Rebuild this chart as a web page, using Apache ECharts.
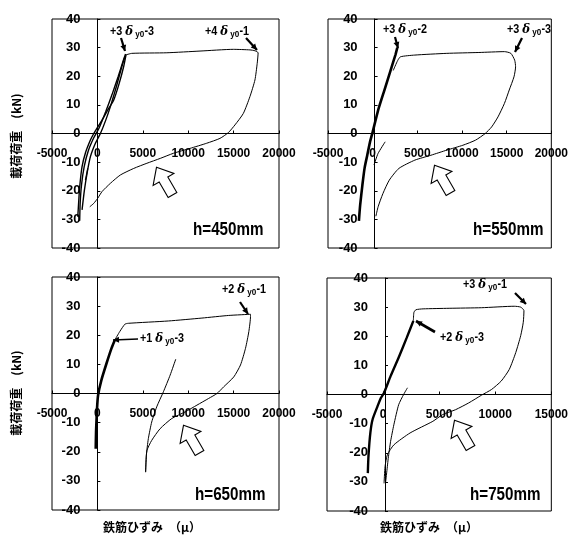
<!DOCTYPE html>
<html><head><meta charset="utf-8">
<script src="https://cdn.jsdelivr.net/npm/echarts@6/dist/echarts.min.js"></script>
<style>html,body{margin:0;padding:0;background:#fff}#c{width:571px;height:539px}</style>
</head><body><div id="c"></div>
<script>
// ---------- data (strain μ, load kN) ----------
const panelTitles = ['h=450mm', 'h=550mm', 'h=650mm', 'h=750mm'];
const xMaxes = [20000, 20000, 20000, 15000];
const yTitle = '載荷荷重　(kN)';
const xTitle = '鉄筋ひずみ　（μ）';

// h=450mm
const p1Main = [[3075,27.4],[3800,28.0],[7650,28.2],[11300,28.8],[14970,29.4],[16800,29.2],[17350,28.9],[17700,28.2],[17600,24.5],[17350,18.7],[16800,12.9],[16070,7.0],[15150,3.0],[14420,0.3],[13500,-1.7],[12040,-3.4],[10200,-5.2],[8380,-6.9],[6920,-8.7],[5450,-10.4],[4000,-12.2],[2525,-14.5],[1430,-17.4],[510,-20.3],[40,-22.6],[-400,-24.4],[-840,-25.6]];
const p1CycA = [[-2160,-29.1],[-2050,-23.3],[-1950,-18.6],[-1690,-11.6],[-1320,-6.8],[-770,-2.3],[-400,0],[-40,1.9],[510,4.7],[1200,8.5],[1800,11.7],[2400,17.5],[2900,23.5],[3150,27.5]];
const p1CycB = [[-1690,-26.7],[-1430,-19.8],[-1140,-13.9],[-770,-8.1],[-220,-3.4],[330,0],[900,4.5],[1430,9.4],[2100,16.5],[2700,23.5],[3050,27.0]];
const p1CycC = [[-1950,-30.5],[-1900,-24.5],[-1750,-18.0],[-1450,-11.5],[-1000,-6.0],[-400,-1.5],[200,2.0],[900,7.5],[1600,13.5],[2300,20.0],[2850,25.5],[3100,27.8]];
const p1Short = [[-1320,-16.3],[-1060,-12.2]];

// h=550mm
const p2Thick = [[-1540,-30.5],[-1400,-25.0],[-1150,-18.0],[-900,-12.0],[-600,-7.5],[-300,-3.0],[0,0.5],[600,8.0],[1300,15.0],[2000,22.0],[2550,27.5],[2760,30.0]];
const p2Main = [[2300,22.0],[2800,25.5],[3115,26.8],[4725,27.4],[8300,28.0],[11890,28.3],[14750,28.6],[15470,28.0],[15900,25.6],[16000,23.3],[15820,19.8],[15290,15.2],[14750,10.5],[14030,5.8],[13320,2.3],[12600,0],[11530,-2.3],[10100,-4.1],[8300,-5.8],[6520,-7.6],[4725,-9.3],[2935,-12.2],[1860,-16.3],[1145,-21.0],[610,-25.6],[360,-28.9]];
const p2Short = [[150,-11.0],[600,-7.0],[1400,-2.9]];

// h=650mm
const p3Thick = [[-185,-19.0],[-150,-13.2],[-40,-5.2],[75,-0.6],[440,4.6],[1000,10.3],[1550,15.5],[1920,18.4]];
const p3Main = [[1920,18.4],[2470,21.3],[3030,23.8],[3400,24.1],[7820,24.9],[11510,25.9],[14460,26.8],[16860,27.2],[16860,26.4],[16680,21.3],[16310,15.5],[15760,9.8],[15020,5.7],[13910,2.3],[13170,0],[12250,-1.7],[10960,-4.0],[9670,-6.3],[8190,-8.6],[6900,-12.1],[5980,-16.1],[5460,-19.5],[5350,-23.6],[5310,-27.0]];
const p3Reload = [[5310,-27.0],[5390,-21.3],[5610,-15.5],[5980,-9.8],[6530,-4.6],[7270,0.6],[8010,6.3],[8630,11.8]];

// h=750mm
const p4Thick = [[-1360,-27.0],[-1300,-21.0],[-1130,-13.0],[-930,-8.5],[-490,-4.0],[-200,-1.2],[90,0.6],[670,6.3],[1390,12.7],[2120,19.6],[2700,25.3]];
const p4Main = [[2700,25.3],[2750,28.2],[2930,29.1],[3570,29.4],[5890,29.6],[8790,29.8],[11690,30.3],[12270,30.0],[12560,28.8],[12500,24.8],[12270,20.2],[11830,14.4],[11250,8.6],[10530,4.6],[9660,1.7],[8790,-0.2],[7630,-2.9],[6470,-5.2],[5310,-6.9],[4440,-9.2],[2410,-13.2],[960,-17.3],[380,-20.7],[175,-24.8],[87,-30.5]];
const p4Reload = [[230,-30.0],[380,-24.8],[460,-21.9],[670,-16.1],[960,-10.4],[1390,-3.5],[1830,0],[2175,2.3]];

// annotations: [multiplier, cycle]
const notes = [
  ['+3', '-3'], ['+4', '-1'], ['+3', '-2'], ['+3', '-3'],
  ['+2', '-1'], ['+1', '-3'], ['+3', '-1'], ['+2', '-3']
];

// ---------- chart ----------
const FONT = "'Liberation Sans','Arial',sans-serif";
const grids = [
  {left:52, top:19, width:227, height:229},
  {left:328, top:19, width:233, height:229},
  {left:52, top:277, width:227, height:233},
  {left:327, top:278, width:232, height:233}
];
const chart = echarts.init(document.getElementById('c'), null, {renderer:'canvas'});

function xAxisCfg(i){
  return {gridIndex:i, type:'value', min:-5000, max:xMaxes[i], interval:5000,
    position:'bottom', offset:-grids[i].height/2,
    axisLine:{onZero:false, lineStyle:{color:'#000', width:1}},
    axisTick:{inside:true, length:3, lineStyle:{color:'#000'}},
    axisLabel:{color:'#000', fontWeight:'bold', fontFamily:FONT, fontSize:12, margin:14,
      showMinLabel:true, showMaxLabel:true, formatter:v => String(v)},
    splitLine:{show:false}};
}
function yAxisCfg(i){
  const off = -grids[i].width * 5000 / (xMaxes[i] + 5000);
  return {gridIndex:i, type:'value', min:-40, max:40, interval:10,
    position:'left', offset:off,
    axisLine:{onZero:false, lineStyle:{color:'#000', width:1}},
    axisTick:{inside:true, length:3, lineStyle:{color:'#000'}},
    axisLabel:{color:'#000', fontWeight:'bold', fontFamily:FONT, fontSize:13, margin:17,
      showMinLabel:true, showMaxLabel:true, formatter:v => String(v)},
    splitLine:{show:false}};
}
function ln(i, data, w, smooth){
  return {type:'line', xAxisIndex:i, yAxisIndex:i, data:data, symbol:'none', showSymbol:false,
    smooth: smooth === undefined ? 0.2 : smooth, lineStyle:{color:'#000', width:w}, silent:true, z:3};
}

const series = [
  ln(0,p1Main,1), ln(0,p1CycA,1.4), ln(0,p1CycB,1.4), ln(0,p1CycC,1.4), ln(0,p1Short,1.2,0),
  ln(1,p2Thick,2.6), ln(1,p2Main,1), ln(1,p2Short,1),
  ln(2,p3Thick,2.6), ln(2,p3Main,1), ln(2,p3Reload,1),
  ln(3,p4Thick,2.4), ln(3,p4Main,1), ln(3,p4Reload,1)
];

// graphics
const g = [];
function txt(x, y, text, size, sx){
  g.push({type:'text', x:x, y:y, scaleX:sx||1, silent:true, z:10,
    style:{text:text, fill:'#000', font:'bold '+size+'px '+FONT, textAlign:'left', textVerticalAlign:'middle'}});
}
function note(x, y, k){
  g.push({type:'text', x:x, y:y, scaleX:0.9, silent:true, z:10,
    style:{text:'{n|'+notes[k][0]+' }{d|δ}{s| y0}{n|'+notes[k][1]+'}', textVerticalAlign:'middle',
      rich:{n:{fontSize:12, fontWeight:'bold', fontFamily:FONT, fill:'#000'},
            d:{fontSize:13, fontWeight:'bold', fontStyle:'italic', fontFamily:'DejaVu Serif', fill:'#000'},
            s:{fontSize:9, fontWeight:'bold', fontFamily:FONT, fill:'#000', padding:[5,0,0,0]}}}});
}
function pointer(x1, y1, x2, y2, w){
  g.push({type:'line', silent:true, z:9, shape:{x1:x1,y1:y1,x2:x2,y2:y2}, style:{stroke:'#000', lineWidth:w}});
  const a = Math.atan2(y2-y1, x2-x1), L = 6, H = 3;
  const bx = x2 - L*Math.cos(a), by = y2 - L*Math.sin(a);
  g.push({type:'polygon', silent:true, z:9, shape:{points:[[x2,y2],[bx+H*Math.sin(a), by-H*Math.cos(a)],[bx-H*Math.sin(a), by+H*Math.cos(a)]]}, style:{fill:'#000'}});
}
function bigArrow(cx, cy, ang){
  const pts = [[0,-17],[12,-3],[5,-3],[5,15],[-5,15],[-5,-3],[-12,-3]];
  const c = Math.cos(ang), s = Math.sin(ang);
  const p = pts.map(([x,y]) => [cx + x*c + y*s, cy - x*s + y*c]);
  g.push({type:'polygon', silent:true, z:8, shape:{points:p}, style:{fill:'#fff', stroke:'#000', lineWidth:1.1}});
}

// panel labels
txt(193, 230, panelTitles[0], 19, 0.8);
txt(473, 230, panelTitles[1], 19, 0.8);
txt(195, 495, panelTitles[2], 19, 0.8);
txt(470, 495, panelTitles[3], 19, 0.8);
// axis titles
const CJK = "'Noto Sans CJK JP',sans-serif";
g.push({type:'text', x:16, y:136, rotation:Math.PI/2, silent:true, style:{text:yTitle, fill:'#000', font:'bold 12px '+CJK, textAlign:'center', textVerticalAlign:'middle'}});
g.push({type:'text', x:16, y:393, rotation:Math.PI/2, silent:true, style:{text:yTitle, fill:'#000', font:'bold 12px '+CJK, textAlign:'center', textVerticalAlign:'middle'}});
g.push({type:'text', x:103, y:527, silent:true, style:{text:xTitle, fill:'#000', font:'bold 12px '+CJK, textAlign:'left', textVerticalAlign:'middle'}});
g.push({type:'text', x:380, y:527, silent:true, style:{text:xTitle, fill:'#000', font:'bold 12px '+CJK, textAlign:'left', textVerticalAlign:'middle'}});
// annotations
note(110, 32, 0); pointer(121, 38, 125, 51, 2.2);
note(205, 32, 1); pointer(246, 38, 257, 50, 2.2);
note(383, 30, 2); pointer(395, 37, 398, 48, 2.2);
note(507, 30, 3); pointer(522, 38, 515, 52, 2.2);
note(222, 290, 4); pointer(240, 302, 248, 314, 2.2);
note(140, 339, 5); pointer(138, 339, 113, 340, 1.3);
note(463, 285, 6); pointer(515, 293, 526, 304, 2.2);
note(440, 338, 7); pointer(435, 332, 416, 321, 2.6);
// big hollow arrows
bigArrow(165, 182, Math.PI/6);
bigArrow(443, 180, Math.PI/6);
bigArrow(192, 440, Math.PI/6);
bigArrow(463, 435, Math.PI/6);

chart.setOption({
  animation:false,
  backgroundColor:'#fff',
  grid: grids.map(gr => Object.assign({show:true, borderColor:'#000', borderWidth:1, backgroundColor:'transparent'}, gr)),
  xAxis: [0,1,2,3].map(xAxisCfg),
  yAxis: [0,1,2,3].map(yAxisCfg),
  series: series,
  graphic: g
});
</script>
</body></html>
